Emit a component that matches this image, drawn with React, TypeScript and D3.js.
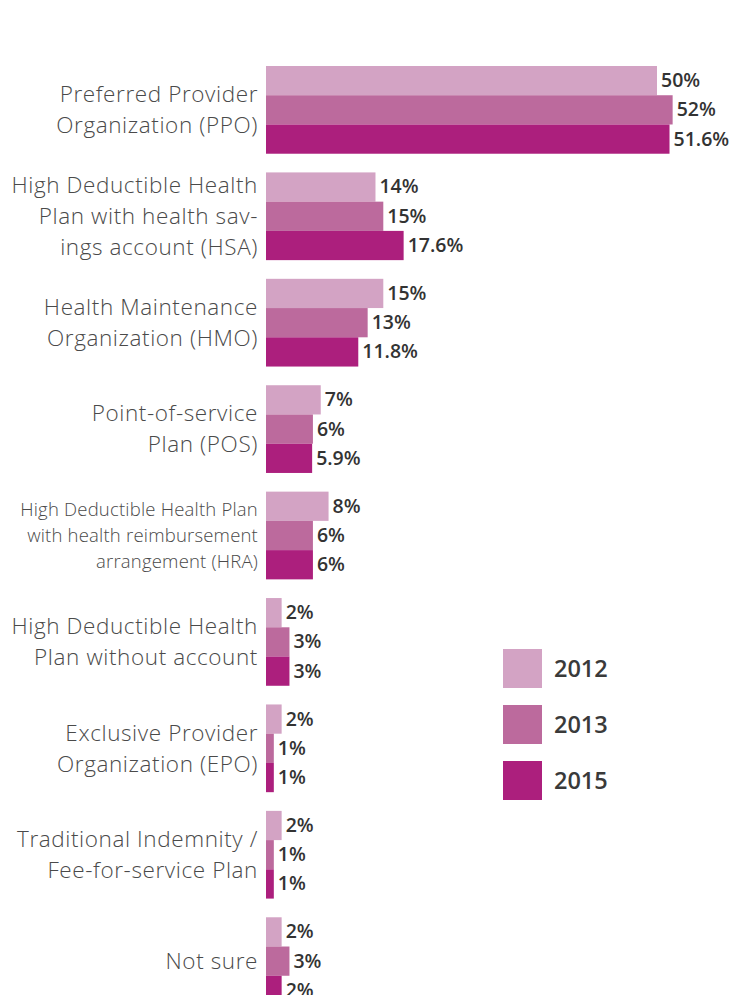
import React from "react";
import * as d3 from "d3";

const categories: string[][] = [
  ["Preferred Provider", "Organization (PPO)"],
  ["High Deductible Health", "Plan with health sav-", "ings account (HSA)"],
  ["Health Maintenance", "Organization (HMO)"],
  ["Point-of-service", "Plan (POS)"],
  ["High Deductible Health Plan", "with health reimbursement", "arrangement (HRA)"],
  ["High Deductible Health", "Plan without account"],
  ["Exclusive Provider", "Organization (EPO)"],
  ["Traditional Indemnity /", "Fee-for-service Plan"],
  ["Not sure"],
];
const smallLabel = [false, false, false, false, true, false, false, false, false];
const years = ["2012", "2013", "2015"];
const values2012 = [50, 14, 15, 7, 8, 2, 2, 2, 2];
const values2013 = [52, 15, 13, 6, 6, 3, 1, 1, 3];
const values2015 = [51.6, 17.6, 11.8, 5.9, 6, 3, 1, 1, 2];
const valueLabels2012 = ["50%", "14%", "15%", "7%", "8%", "2%", "2%", "2%", "2%"];
const valueLabels2013 = ["52%", "15%", "13%", "6%", "6%", "3%", "1%", "1%", "3%"];
const valueLabels2015 = ["51.6%", "17.6%", "11.8%", "5.9%", "6%", "3%", "1%", "1%", "2%"];
const colors = ["#d3a3c4", "#bc6a9d", "#ac1f7d"];

const W = 743;
const H = 1003;

export default function App() {
  const series = [values2012, values2013, values2015];
  const seriesLabels = [valueLabels2012, valueLabels2013, valueLabels2015];
  const idx = categories.map((_, i) => String(i));
  const y = d3.scaleBand<string>().domain(idx).range([66, 1005]).paddingInner(0.1756).paddingOuter(0);
  const yInner = d3.scaleBand<string>().domain(years).range([0, y.bandwidth()]);
  const x = d3.scaleLinear().domain([0, 50]).range([266, 657]);

  const legendY = d3.scaleBand<string>().domain(years).range([649, 649 + 3 * 56]).paddingInner(0);

  return (
    <div style={{ margin: -8 }}>
      <svg width={W} height={H} style={{ display: "block" }}>
        <rect width={W} height={H} fill="#fff" />
        {categories.map((lines, i) => {
          const g0 = y(String(i))!;
          const cy = g0 + y.bandwidth() / 2;
          const small = smallLabel[i];
          const fs = small ? 18.5 : 22.5;
          const ls = small ? 0.2 : 0.6;
          const lh = small ? 26 : 31;
          const start = cy - ((lines.length - 1) * lh) / 2;
          return (
            <g key={i}>
              <text
                x={258}
                textAnchor="end"
                fontFamily="'Open Sans', sans-serif"
                fontWeight={300}
                fontSize={fs}
                letterSpacing={ls}
                fill="#4a4a4a"
              >
                {lines.map((l, j) => (
                  <tspan key={j} x={258} y={start + j * lh} dy="0.35em">
                    {l}
                  </tspan>
                ))}
              </text>
              {years.map((yr, s) => {
                const v = series[s][i];
                const by = g0 + yInner(yr)!;
                const bh = yInner.bandwidth();
                return (
                  <g key={yr}>
                    <rect x={x(0)} y={by} width={x(v) - x(0)} height={bh} fill={colors[s]} />
                    <text
                      x={x(v) + 4}
                      y={by + bh / 2}
                      dy="0.33em"
                      fontFamily="'Open Sans', sans-serif"
                      fontWeight={600}
                      fontSize={19.5}
                      fill="#333"
                    >
                      {seriesLabels[s][i]}
                    </text>
                  </g>
                );
              })}
            </g>
          );
        })}
        {years.map((yr, s) => (
          <g key={yr}>
            <rect x={503} y={legendY(yr)!} width={39} height={39} fill={colors[s]} />
            <text
              x={554}
              y={legendY(yr)! + 19.5}
              dy="0.36em"
              fontFamily="'Open Sans', sans-serif"
              fontWeight={600}
              fontSize={23.5}
              fill="#3a3a3a"
            >
              {yr}
            </text>
          </g>
        ))}
      </svg>
    </div>
  );
}
